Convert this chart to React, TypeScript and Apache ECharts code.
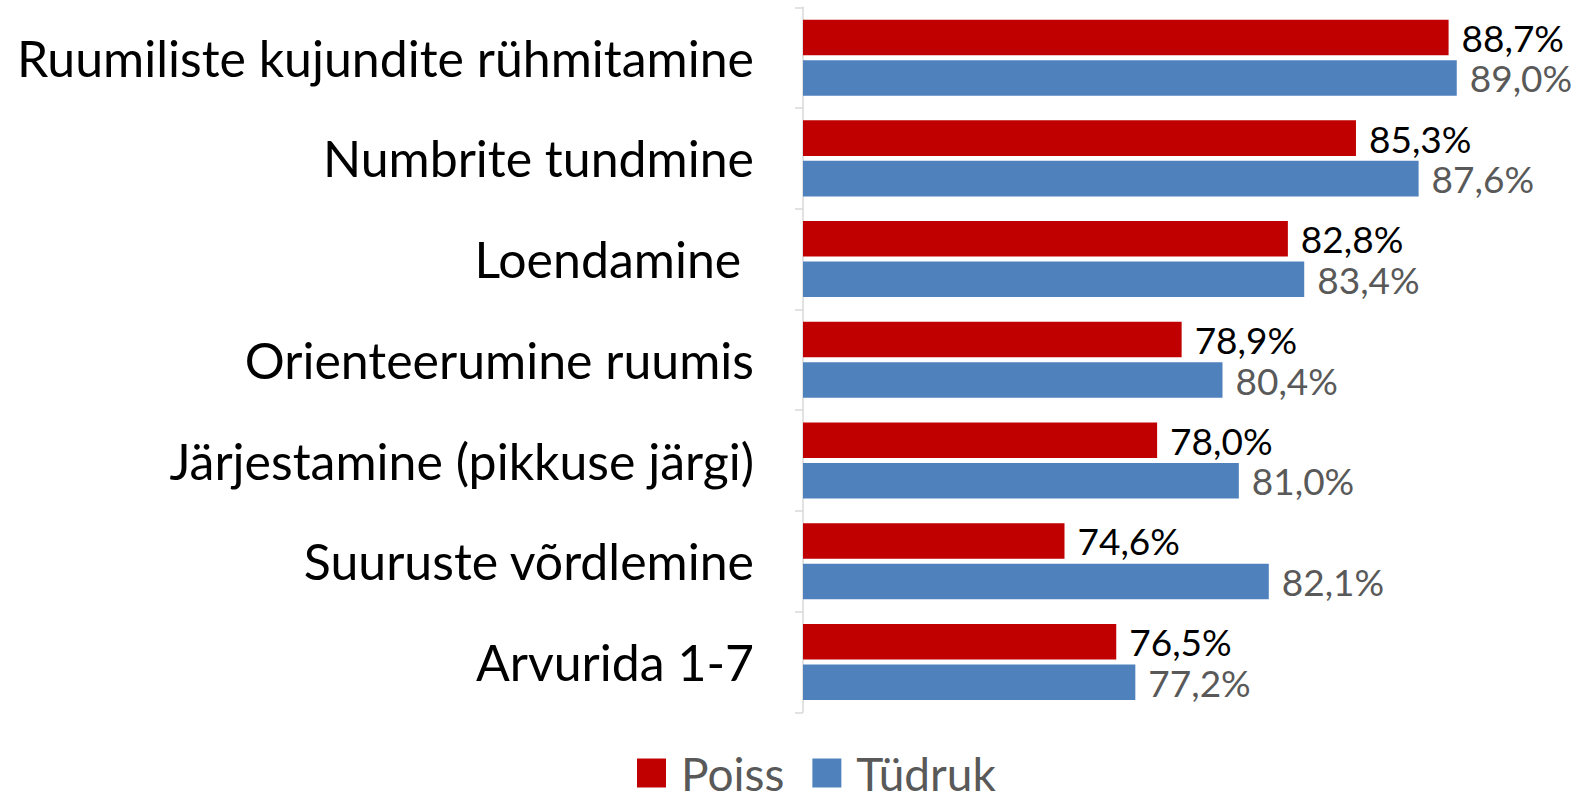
import React, { useEffect, useRef } from "react";
import * as echarts from "echarts";

const categories = [
  "Ruumiliste kujundite rühmitamine",
  "Numbrite tundmine",
  "Loendamine ",
  "Orienteerumine ruumis",
  "Järjestamine (pikkuse järgi)",
  "Suuruste võrdlemine",
  "Arvurida 1-7",
];
const poiss = [88.7, 85.3, 82.8, 78.9, 78.0, 74.6, 76.5];
const tudruk = [89.0, 87.6, 83.4, 80.4, 81.0, 82.1, 77.2];
const seriesNames = ["Poiss", "Tüdruk"];

const FONT = "Lato";
const fmt = (p: any) => p.value.toFixed(1).replace(".", ",") + "%";

export default function App() {
  const ref = useRef<HTMLDivElement>(null);
  useEffect(() => {
    if (!ref.current) return;
    const chart = echarts.init(ref.current, null, { renderer: "svg" });
    chart.setOption({
      animation: false,
      backgroundColor: "#ffffff",
      textStyle: { fontFamily: FONT },
      grid: { left: 803, top: 7.3, width: 681, height: 705, containLabel: false },
      legend: {
        data: seriesNames,
        left: 637,
        top: 750,
        padding: 0,
        icon: "rect",
        itemWidth: 29,
        itemHeight: 29,
        itemGap: 28,
        textStyle: { fontFamily: FONT, fontSize: 46, color: "#595959", padding: [0, 0, 0, 10] },
      },
      xAxis: {
        type: "value",
        min: 65,
        max: 90,
        show: false,
      },
      yAxis: {
        type: "category",
        data: categories,
        inverse: true,
        axisLine: { show: true, lineStyle: { color: "#D9D9D9", width: 1.5 } },
        axisTick: { show: true, length: 8, lineStyle: { color: "#D9D9D9", width: 1.5 } },
        axisLabel: { fontFamily: FONT, fontSize: 50, color: "#000000", margin: 49 },
      },
      series: [
        {
          name: seriesNames[0],
          type: "bar",
          data: poiss,
          itemStyle: { color: "#C00000" },
          barCategoryGap: "24.5%",
          barGap: "14%",
          label: { show: true, position: "right", distance: 13, formatter: fmt, fontFamily: FONT, fontSize: 37, lineHeight: 32, color: "#000000" },
        },
        {
          name: seriesNames[1],
          type: "bar",
          data: tudruk,
          itemStyle: { color: "#4F81BD" },
          barCategoryGap: "24.5%",
          barGap: "14%",
          label: { show: true, position: "right", distance: 13, formatter: fmt, fontFamily: FONT, fontSize: 37, lineHeight: 32, color: "#595959" },
        },
      ],
    });
    return () => chart.dispose();
  }, []);
  return <div ref={ref} style={{ position: "fixed", left: 0, top: 0, width: 1586, height: 794 }} />;
}
